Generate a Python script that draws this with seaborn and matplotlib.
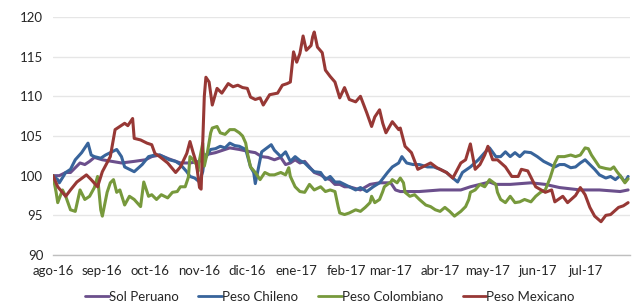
import pandas as pd
import numpy as np
import matplotlib
matplotlib.use("Agg")
import matplotlib.pyplot as plt
import seaborn as sns

# Indices base 100 = 1 ago 2016 ; x = days since start
start = pd.Timestamp("2016-08-01")

pen_days = [0, 4, 8, 11, 14, 17, 20, 23, 26, 31,
            37, 43, 51, 58, 62, 67, 73, 80, 86, 92,
            95, 102, 108, 111, 117, 124, 127, 131, 135, 139,
            143, 146, 149, 152, 155, 158, 161, 164, 168, 171,
            174, 177, 180, 183, 186, 193, 199, 205, 212, 215,
            218, 230, 243, 256, 262, 274, 278, 287, 300, 309,
            318, 331, 343, 356, 361]
pen_vals = [100.0, 100.0, 100.4, 100.4, 101.0, 101.6, 101.4, 101.8, 102.3, 102.0,
            101.8, 101.6, 101.8, 102.0, 102.4, 102.6, 102.1, 101.6, 101.6, 101.8,
            102.6, 102.9, 103.3, 103.5, 103.3, 103.0, 102.9, 102.4, 102.3, 102.0,
            102.3, 101.4, 101.6, 102.0, 101.6, 101.8, 101.1, 100.4, 100.1, 99.7,
            99.5, 98.9, 98.9, 98.6, 98.6, 98.2, 98.9, 99.1, 99.1, 98.2,
            98.0, 98.0, 98.2, 98.2, 98.6, 99.2, 98.9, 98.9, 99.1, 98.9,
            98.5, 98.2, 98.2, 98.0, 98.2]

clp_days = [0, 3, 4, 8, 11, 14, 18, 22, 24, 26,
            30, 33, 36, 40, 43, 45, 48, 51, 56, 60,
            64, 67, 70, 73, 77, 80, 84, 86, 89, 92,
            94, 95, 99, 102, 105, 108, 111, 114, 117, 121,
            124, 126, 127, 129, 131, 135, 137, 139, 143, 146,
            149, 152, 155, 158, 161, 164, 168, 171, 174, 177,
            180, 183, 186, 190, 193, 197, 201, 205, 210, 213,
            217, 219, 222, 226, 230, 235, 239, 243, 247, 251,
            254, 257, 262, 267, 271, 274, 278, 281, 284, 287,
            290, 293, 296, 300, 304, 308, 312, 315, 318, 321,
            325, 328, 331, 334, 337, 340, 343, 347, 350, 353,
            356, 359, 361]
clp_vals = [100.0, 99.5, 99.1, 100.4, 100.8, 102.0, 102.9, 104.1, 102.6, 102.4,
            102.2, 102.6, 102.9, 103.3, 102.4, 101.1, 100.8, 100.5, 101.4, 102.4,
            102.6, 102.6, 102.3, 102.0, 101.8, 101.4, 100.5, 99.9, 99.7, 99.2,
            100.5, 102.0, 103.3, 103.4, 103.7, 103.5, 104.1, 103.8, 103.7, 103.3,
            101.1, 100.4, 99.0, 101.0, 103.0, 103.6, 103.9, 103.2, 102.4, 103.0,
            101.8, 102.4, 101.9, 101.6, 101.0, 100.5, 100.4, 99.5, 99.9, 99.2,
            99.2, 98.9, 98.6, 98.2, 98.5, 98.0, 98.6, 99.1, 100.4, 101.1,
            101.6, 102.4, 101.6, 101.4, 101.4, 101.1, 101.1, 100.8, 100.4, 99.7,
            99.2, 100.4, 101.1, 102.0, 102.9, 103.5, 102.4, 102.4, 103.0, 102.4,
            102.9, 102.4, 103.0, 102.9, 102.4, 101.8, 101.4, 101.1, 101.4, 101.4,
            101.0, 101.1, 101.6, 102.0, 101.4, 100.8, 100.1, 99.7, 99.9, 99.5,
            100.0, 99.2, 99.9]

cop_days = [0, 2, 3, 6, 8, 11, 14, 17, 20, 23,
            26, 28, 30, 31, 34, 36, 38, 40, 42, 45,
            48, 51, 55, 57, 60, 62, 65, 68, 72, 75,
            78, 80, 83, 85, 86, 88, 90, 91, 92, 94,
            95, 97, 99, 100, 103, 105, 108, 111, 114, 117,
            119, 121, 122, 124, 127, 130, 133, 136, 139, 143,
            146, 148, 149, 152, 155, 158, 161, 164, 168, 171,
            174, 177, 179, 180, 183, 186, 190, 193, 196, 199,
            200, 202, 205, 207, 208, 212, 213, 216, 218, 220,
            221, 224, 227, 230, 234, 237, 240, 243, 246, 249,
            252, 256, 259, 261, 262, 265, 268, 271, 274, 278,
            279, 281, 284, 287, 290, 293, 296, 300, 303, 306,
            309, 312, 315, 317, 321, 325, 328, 331, 334, 336,
            338, 340, 343, 347, 350, 352, 354, 356, 359, 361]
cop_vals = [100.0, 97.9, 96.6, 98.2, 97.4, 95.7, 95.5, 98.2, 97.0, 97.4,
            98.5, 99.9, 95.7, 94.9, 97.9, 99.1, 99.5, 97.9, 98.2, 96.3,
            97.4, 97.0, 96.1, 99.2, 97.4, 97.6, 97.0, 97.6, 97.2, 97.9,
            98.0, 98.6, 98.6, 99.8, 102.4, 102.0, 101.4, 100.5, 102.0, 104.1,
            101.2, 103.0, 105.4, 106.0, 106.2, 105.4, 105.2, 105.8, 105.8, 105.4,
            105.0, 104.1, 102.9, 101.1, 100.4, 99.5, 100.4, 100.1, 100.1, 100.4,
            100.1, 101.0, 99.9, 98.6, 98.0, 97.9, 98.9, 98.2, 98.6, 98.0,
            98.2, 98.0, 96.1, 95.3, 95.1, 95.3, 95.7, 95.5, 96.0, 96.6,
            97.4, 96.6, 97.0, 98.0, 98.6, 99.2, 99.5, 99.1, 99.7, 99.1,
            97.9, 97.4, 97.6, 97.0, 96.3, 96.1, 95.7, 95.5, 96.0, 95.5,
            94.9, 95.5, 96.1, 97.0, 97.9, 98.2, 98.9, 98.6, 99.5, 98.9,
            97.9, 97.0, 96.6, 97.4, 96.6, 96.7, 97.0, 96.7, 97.4, 97.9,
            98.2, 99.7, 101.6, 102.4, 102.4, 102.6, 102.4, 102.6, 103.5, 103.4,
            102.6, 102.0, 101.1, 100.9, 100.8, 101.1, 100.5, 100.0, 99.1, 99.6]

mxn_days = [0, 3, 8, 11, 15, 21, 24, 28, 31, 36,
            39, 42, 45, 47, 50, 51, 55, 59, 62, 64,
            67, 72, 77, 80, 84, 86, 88, 90, 92, 93,
            95, 96, 98, 100, 103, 106, 110, 113, 116, 119,
            122, 124, 127, 130, 132, 136, 141, 144, 147, 149,
            151, 153, 155, 157, 159, 162, 163, 164, 166, 169,
            171, 174, 177, 180, 183, 186, 190, 193, 197, 200,
            202, 205, 207, 209, 213, 217, 218, 221, 225, 229,
            233, 237, 241, 247, 251, 256, 259, 262, 265, 268,
            271, 273, 276, 279, 284, 288, 292, 294, 298, 303,
            309, 313, 315, 320, 323, 328, 331, 334, 337, 340,
            344, 347, 350, 355, 358, 361]
mxn_vals = [100.0, 98.6, 97.4, 98.2, 99.2, 100.1, 99.5, 98.6, 100.5, 102.4,
            105.8, 106.2, 106.6, 106.3, 107.2, 104.7, 104.5, 104.1, 103.9, 102.8,
            102.4, 101.6, 100.4, 101.1, 102.8, 104.3, 102.9, 101.6, 98.5, 98.3,
            110.0, 112.4, 111.8, 108.9, 111.0, 110.4, 111.6, 111.2, 111.4, 111.1,
            111.0, 109.9, 109.6, 109.8, 108.9, 110.2, 110.4, 111.4, 111.6, 111.8,
            115.6, 114.3, 115.4, 117.6, 115.8, 116.4, 117.5, 118.1, 116.2, 115.5,
            113.3, 112.5, 111.8, 109.8, 111.1, 109.6, 109.3, 110.0, 107.9, 106.2,
            107.4, 108.3, 106.6, 105.4, 106.8, 105.8, 106.0, 103.7, 102.9, 100.8,
            101.2, 101.6, 101.0, 100.4, 99.7, 101.6, 102.0, 104.0, 100.8, 101.4,
            102.6, 103.7, 102.0, 102.0, 101.1, 99.9, 99.9, 100.8, 100.6, 98.6,
            97.9, 98.2, 96.7, 97.4, 96.6, 97.5, 98.5, 97.6, 96.0, 94.9,
            94.2, 95.0, 95.1, 96.0, 96.2, 96.6]

series_names = ["Sol Peruano", "Peso Chileno", "Peso Colombiano", "Peso Mexicano"]
month_labels = ["ago-16", "sep-16", "oct-16", "nov-16", "dic-16", "ene-17",
                "feb-17", "mar-17", "abr-17", "may-17", "jun-17", "jul-17"]
colors = ["#6b4f8c", "#38649b", "#77993c", "#973835"]

frames = []
for name, d, v in zip(series_names,
                      [pen_days, clp_days, cop_days, mxn_days],
                      [pen_vals, clp_vals, cop_vals, mxn_vals]):
    frames.append(pd.DataFrame({"fecha": start + pd.to_timedelta(d, unit="D"),
                                "valor": v, "moneda": name}))
df = pd.concat(frames, ignore_index=True)

sns.set_style("white")
plt.rcParams["font.family"] = ["Lato", "DejaVu Sans"]

fig = plt.figure(figsize=(6.38, 3.08), dpi=100)
ax = fig.add_axes([0.083, 0.172, 0.904, 0.773])

sns.lineplot(data=df, x="fecha", y="valor", hue="moneda", hue_order=series_names,
             palette=colors, linewidth=2.2, ax=ax, legend=False)

ax.set_xlim(start, start + pd.Timedelta(days=362))
ax.set_ylim(90, 120)
ax.set_yticks(range(90, 121, 5))
ax.grid(axis="y", color="#e6e6e6", linewidth=1)
ax.set_axisbelow(True)

ticks = pd.date_range("2016-08-01", periods=12, freq="MS")
ax.set_xticks(ticks)
ax.set_xticklabels(month_labels)
ax.tick_params(axis="both", length=0, labelsize=9.5, colors="#262626", pad=7)
ax.set_xlabel("")
ax.set_ylabel("")

for side in ["left", "right", "top"]:
    ax.spines[side].set_visible(False)
ax.spines["bottom"].set_color("#bfbfbf")
ax.spines["bottom"].set_linewidth(1)

handles = [plt.Line2D([], [], color=c, linewidth=2) for c in colors]
fig.legend(handles, series_names, loc="center", bbox_to_anchor=(0.517, 0.036),
           ncol=4, frameon=False, fontsize=9.5, handlelength=1.8, handletextpad=0.0,
           columnspacing=1.5, labelcolor="#262626")

fig.savefig("out.png", dpi=100)
